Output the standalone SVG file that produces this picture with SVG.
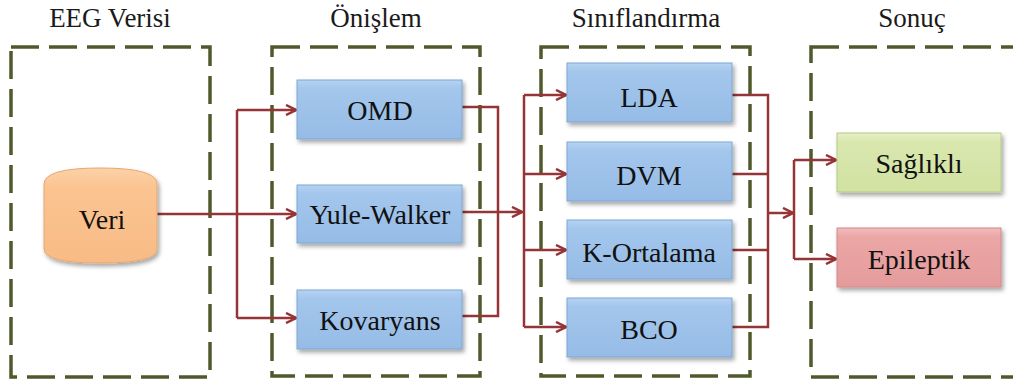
<svg xmlns="http://www.w3.org/2000/svg" width="1013" height="383" viewBox="0 0 1013 383">
<style>
text{font-family:"Liberation Serif","Times New Roman","DejaVu Serif",serif}
.title{font-size:27px;fill:#1a1a1a;text-anchor:middle}
.lbl{font-size:28px;fill:#111;text-anchor:middle;dominant-baseline:central}
.grp{fill:none;stroke:#4f5a2c;stroke-width:3.5;stroke-dasharray:28 10}
.blue{fill:url(#gBlue);stroke:#7fa7d4;stroke-width:1}
.green{fill:url(#gGreen);stroke:#b5c98a;stroke-width:1}
.red{fill:url(#gRed);stroke:#d08a8a;stroke-width:1}
.orange{fill:url(#gOrange);stroke:#e6a872;stroke-width:1}
.conn{fill:none;stroke:#963537;stroke-width:2.5}
</style>
<defs>
<linearGradient id="gBlue" x1="0" y1="0" x2="0" y2="1"><stop offset="0" stop-color="#b6d3f1"/><stop offset="0.15" stop-color="#a3c6ec"/><stop offset="1" stop-color="#96bce6"/></linearGradient>
<linearGradient id="gGreen" x1="0" y1="0" x2="0" y2="1"><stop offset="0" stop-color="#e6f0c6"/><stop offset="0.15" stop-color="#d9e7ae"/><stop offset="1" stop-color="#d1e2a2"/></linearGradient>
<linearGradient id="gRed" x1="0" y1="0" x2="0" y2="1"><stop offset="0" stop-color="#f3bcbc"/><stop offset="0.15" stop-color="#eba6a6"/><stop offset="1" stop-color="#e59b9b"/></linearGradient>
<linearGradient id="gOrange" x1="0" y1="0" x2="0" y2="1"><stop offset="0" stop-color="#fcd2a8"/><stop offset="0.2" stop-color="#fbc491"/><stop offset="1" stop-color="#f8bb85"/></linearGradient>
<filter id="sh" x="-10%" y="-10%" width="125%" height="135%"><feDropShadow dx="2" dy="3" stdDeviation="2" flood-color="#000" flood-opacity="0.35"/></filter>
<marker id="arr" viewBox="0 0 12 12" refX="11" refY="6" markerWidth="12" markerHeight="12" markerUnits="userSpaceOnUse" orient="auto"><path d="M1,1 L11,6 L1,11" fill="none" stroke="#963537" stroke-width="2.5"/></marker>
</defs>

<g id="titles">
<text class="title" x="110" y="27">EEG Verisi</text>
<text class="title" x="376" y="27">Önişlem</text>
<text class="title" x="646" y="27">Sınıflandırma</text>
<text class="title" x="912" y="27">Sonuç</text>
</g>

<g id="groups">
<rect class="grp" x="11" y="47" width="199" height="330"/>
<rect class="grp" x="272" y="47" width="208" height="329"/>
<rect class="grp" x="541" y="47" width="209" height="329"/>
<rect class="grp" x="811" y="47" width="210" height="330"/>
</g>

<g id="connectors">
<path class="conn" d="M157,214 H237"/>
<path class="conn" d="M237,110 V318"/>
<path class="conn" d="M237,110 H296" marker-end="url(#arr)"/>
<path class="conn" d="M237,214 H296" marker-end="url(#arr)"/>
<path class="conn" d="M237,318 H296" marker-end="url(#arr)"/>
<path class="conn" d="M462,107 H498 V316 H462"/>
<path class="conn" d="M462,212 H522" marker-end="url(#arr)"/>
<path class="conn" d="M524,95 V327"/>
<path class="conn" d="M524,95 H566" marker-end="url(#arr)"/>
<path class="conn" d="M524,174 H566" marker-end="url(#arr)"/>
<path class="conn" d="M524,250 H566" marker-end="url(#arr)"/>
<path class="conn" d="M524,327 H566" marker-end="url(#arr)"/>
<path class="conn" d="M732,95 H768 V327 H732"/>
<path class="conn" d="M732,174 H768"/>
<path class="conn" d="M732,250 H768"/>
<path class="conn" d="M768,213 H793" marker-end="url(#arr)"/>
<path class="conn" d="M794,160 V259"/>
<path class="conn" d="M794,160 H836" marker-end="url(#arr)"/>
<path class="conn" d="M794,259 H836" marker-end="url(#arr)"/>
</g>

<g id="veri">
<path class="orange" filter="url(#sh)" d="M44,184 Q44,168 100,168 Q157,168 157,184 L157,249 Q157,263 100,263 Q44,263 44,249 Z"/>
<text class="lbl" x="102" y="219">Veri</text>
</g>
<g id="omd"><rect class="blue" filter="url(#sh)" x="297" y="80" width="165" height="59"/><text class="lbl" x="380" y="110">OMD</text></g>
<g id="yule-walker"><rect class="blue" filter="url(#sh)" x="297" y="185" width="165" height="58"/><text class="lbl" x="380" y="214">Yule-Walker</text></g>
<g id="kovaryans"><rect class="blue" filter="url(#sh)" x="297" y="290" width="165" height="59"/><text class="lbl" x="380" y="320">Kovaryans</text></g>
<g id="lda"><rect class="blue" filter="url(#sh)" x="567" y="63" width="165" height="59"/><text class="lbl" x="649" y="97">LDA</text></g>
<g id="dvm"><rect class="blue" filter="url(#sh)" x="567" y="142" width="165" height="59"/><text class="lbl" x="649" y="175">DVM</text></g>
<g id="k-ortalama"><rect class="blue" filter="url(#sh)" x="567" y="220" width="165" height="59"/><text class="lbl" x="649" y="252">K-Ortalama</text></g>
<g id="bco"><rect class="blue" filter="url(#sh)" x="567" y="298" width="165" height="59"/><text class="lbl" x="649" y="329">BCO</text></g>
<g id="saglikli"><rect class="green" filter="url(#sh)" x="837" y="133" width="164" height="59"/><text class="lbl" x="919" y="163">Sağlıklı</text></g>
<g id="epileptik"><rect class="red" filter="url(#sh)" x="837" y="228" width="164" height="59"/><text class="lbl" x="919" y="259">Epileptik</text></g>
</svg>
